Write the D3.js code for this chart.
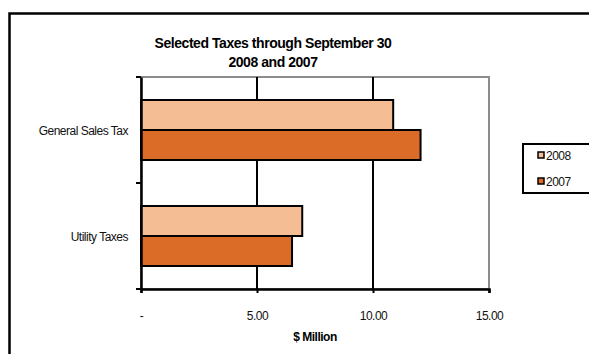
<!DOCTYPE html>
<html>
<head>
<meta charset="utf-8">
<script src="https://cdn.jsdelivr.net/npm/d3@7"></script>
<style>
    body { margin: 0; background: #fff; }
    svg text { font-family: "Liberation Sans", Arial, sans-serif; letter-spacing: -0.5px; }
</style>
</head>
<body>
<div id="chart"></div>
<script>
/*jshint esversion: 6 */

// data ($ million)
let categories = ["General Sales Tax", "Utility Taxes"];
let seriesNames = ["2008", "2007"];
let values2008 = [10.87, 6.95];
let values2007 = [12.05, 6.51];
let xTicks = [0, 5, 10, 15];

let colour = d3.scaleOrdinal().domain(seriesNames).range(["#f4bd93", "#db6c27"]);

let margin = { top: 77, right: 100, bottom: 65, left: 141 };
let width = 589 - margin.left - margin.right;   // 348
let height = 354 - margin.top - margin.bottom;  // 212

let svg = d3.select("#chart").append("svg")
    .attr("width", 589)
    .attr("height", 354);

// chart area border
svg.append("rect")
    .attr("x", 9.5).attr("y", 13.5)
    .attr("width", 600).attr("height", 400)
    .attr("fill", "none")
    .attr("stroke", "#000")
    .attr("stroke-width", 2.5);

// title
let title = svg.append("text")
    .attr("x", 273)
    .attr("y", 48)
    .attr("text-anchor", "middle")
    .style("font-size", "14px")
    .style("font-weight", "bold")
    .style("letter-spacing", "-0.45px");
title.append("tspan").attr("x", 273).text("Selected Taxes through  September 30");
title.append("tspan").attr("x", 273).attr("dy", "19").text("2008 and 2007");

let x = d3.scaleLinear().domain([0, 15]).range([0, width]);
let y = d3.scaleBand().domain(categories).range([0, height]);
let y1 = d3.scaleBand().domain(seriesNames).range([0, 60]);

let g = svg.append("g")
    .attr("transform", "translate(" + margin.left + "," + margin.top + ")");

// plot area border (grey)
g.append("rect")
    .attr("x", 0).attr("y", 0)
    .attr("width", width).attr("height", height)
    .attr("fill", "none")
    .attr("stroke", "#8c8c8c")
    .attr("stroke-width", 2);

// gridlines
g.selectAll(".grid")
    .data(xTicks.slice(1, 3))
    .enter().append("line")
    .attr("class", "grid")
    .attr("x1", d => x(d)).attr("x2", d => x(d))
    .attr("y1", 0).attr("y2", height)
    .attr("stroke", "#000")
    .attr("stroke-width", 2);

// bars
let groups = g.selectAll(".cat")
    .data(categories)
    .enter().append("g")
    .attr("class", "cat")
    .attr("transform", d => "translate(0," + (y(d) + (y.bandwidth() - 60) / 2) + ")");

groups.selectAll("rect")
    .data((d, i) => [
        { s: "2008", v: values2008[i] },
        { s: "2007", v: values2007[i] }
    ])
    .enter().append("rect")
    .attr("x", 0)
    .attr("y", d => y1(d.s))
    .attr("width", d => x(d.v))
    .attr("height", y1.bandwidth())
    .attr("fill", d => colour(d.s))
    .attr("stroke", "#000")
    .attr("stroke-width", 2);

// x axis
let xAxis = g.append("g")
    .attr("transform", "translate(0," + height + ")")
    .call(d3.axisBottom(x).tickValues(xTicks).tickSize(4).tickPadding(18)
        .tickFormat(d => d === 0 ? "-" : d3.format(".2f")(d)));
xAxis.select(".domain").attr("stroke", "#000").attr("stroke-width", 2.5);
xAxis.selectAll(".tick line").attr("stroke", "#000").attr("stroke-width", 2);
xAxis.selectAll("text").style("font-size", "12px").attr("fill", "#111")
    .style("font-family", "'Liberation Sans', Arial, sans-serif");

// y axis
let yAxis = g.append("g")
    .call(d3.axisLeft(y).tickValues([]).tickSizeOuter(0));
yAxis.select(".domain").attr("stroke", "#000").attr("stroke-width", 2.5);
yAxis.selectAll(".ytick")
    .data([0, height / 2, height])
    .enter().append("line")
    .attr("class", "ytick")
    .attr("x1", -5).attr("x2", 0)
    .attr("y1", d => d).attr("y2", d => d)
    .attr("stroke", "#000")
    .attr("stroke-width", 2);

// category labels
g.selectAll(".cat-label")
    .data(categories)
    .enter().append("text")
    .attr("class", "cat-label")
    .attr("x", -13)
    .attr("y", d => y(d) + y.bandwidth() / 2 + 1)
    .attr("dy", ".35em")
    .attr("text-anchor", "end")
    .style("font-size", "12px")
    .attr("fill", "#111")
    .text(d => d);

// x axis title
svg.append("text")
    .attr("x", margin.left + width / 2)
    .attr("y", 341)
    .attr("text-anchor", "middle")
    .style("font-size", "12px")
    .style("font-weight", "bold")
    .text("$ Million");

// legend
let legend = svg.append("g").attr("transform", "translate(523,144)");
legend.append("rect")
    .attr("x", 0).attr("y", 0)
    .attr("width", 80).attr("height", 49)
    .attr("fill", "#fff")
    .attr("stroke", "#000")
    .attr("stroke-width", 2);

let item = legend.selectAll(".item")
    .data(seriesNames)
    .enter().append("g")
    .attr("class", "item")
    .attr("transform", (d, i) => "translate(15," + (12 + i * 26) + ")");
item.append("rect")
    .attr("x", 0).attr("y", -4)
    .attr("width", 6).attr("height", 6)
    .attr("fill", d => colour(d))
    .attr("stroke", "#000")
    .attr("stroke-width", 1.5);
item.append("text")
    .attr("x", 8)
    .attr("y", 0)
    .attr("dy", ".35em")
    .style("font-size", "12px")
    .attr("fill", "#111")
    .text(d => d);
</script>
</body>
</html>
